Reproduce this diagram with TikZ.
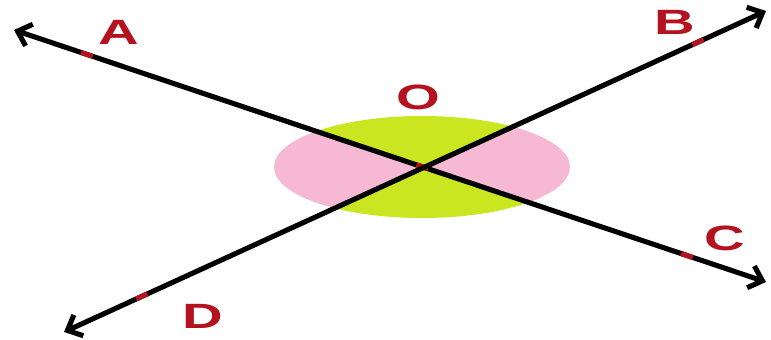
\documentclass[tikz,border=0pt]{standalone}
\usepackage{fontspec}
\setmainfont{Liberation Sans}
\usetikzlibrary{arrows.meta}
\definecolor{labred}{HTML}{B3121E}
\definecolor{sectpink}{HTML}{F6B8D2}
\definecolor{sectgreen}{HTML}{C9E620}
\tikzset{
    ray/.style={line width=2.9pt, {Straight Barb[length=7pt,width=13pt]}-{Straight Barb[length=7pt,width=13pt]}},
    redtick/.style={sloped, fill=labred, inner sep=0, minimum width=7pt, minimum height=2.9pt},
    ptlabel/.style={text=labred, font=\fontsize{20}{22}\selectfont\bfseries, xscale=1.6}
}

\begin{document}
\begin{tikzpicture}[x=0.02cm, y=-0.02cm]
    \useasboundingbox (0, 0) rectangle (771, 340);
    \coordinate (O) at (422, 167);
    \coordinate (endA) at (14, 30);
    \coordinate (endC) at (766, 282);
    \coordinate (endB) at (766, 11);
    \coordinate (endD) at (64, 332);
    % vertical angles
    \begin{scope}
        \clip (O) ellipse [x radius=148, y radius=51];
        \fill[sectpink] (O) -- (endA) -- (endD) -- cycle;
        \fill[sectpink] (O) -- (endB) -- (endC) -- cycle;
        \fill[sectgreen] (O) -- (endA) -- (endB) -- cycle;
        \fill[sectgreen] (O) -- (endD) -- (endC) -- cycle;
    \end{scope}
    \draw[ray] (endA) -- (endC)
        node[redtick, pos=0.097] (tickA) {}
        node[redtick, pos=0.543] (tickO) {}
        node[redtick, pos=0.895] (tickC) {};
    \draw[ray] (endD) -- (endB)
        node[redtick, pos=0.111] (tickD) {}
        node[redtick, pos=0.903] (tickB) {};
    \node[ptlabel] (labA) at (119, 32) {A};
    \node[ptlabel] (labB) at (675, 22) {B};
    \node[ptlabel] (labC) at (725, 238) {C};
    \node[ptlabel] (labD) at (203, 316) {D};
    \node[ptlabel] (labO) at (418, 97) {O};
\end{tikzpicture}
\end{document}
